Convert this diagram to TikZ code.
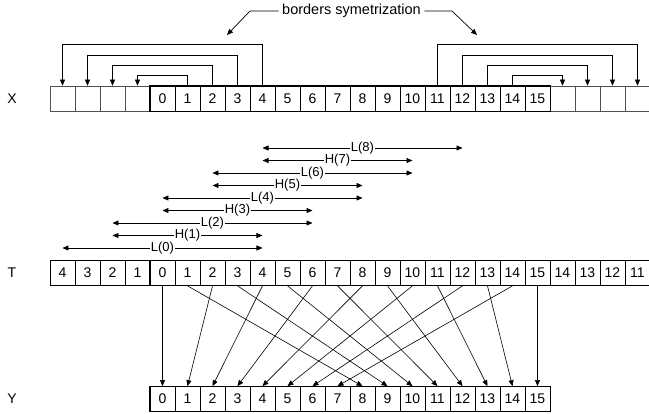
\documentclass[tikz,border=0pt]{standalone}
\usepackage{fontspec}
\setmainfont{Liberation Sans}
\usetikzlibrary{arrows.meta,calc,positioning}
\definecolor{edge}{HTML}{505050}
\tikzset{cell/.style={draw,minimum width=25pt,minimum height=25pt,inner sep=0pt,line width=.7pt,font=\fontsize{14}{16}\selectfont},pad/.style={cell,draw=edge},block/.style={draw,line width=.9pt},sym/.style={-{Triangle[length=6pt,width=5pt]},line width=.7pt},span/.style={{Triangle[length=6pt,width=5pt]}-{Triangle[length=6pt,width=5pt]},line width=.7pt},lab/.style={fill=white,inner sep=1pt,font=\fontsize{13}{15}\selectfont},map/.style={-{Triangle[length=6pt,width=5pt]},line width=.6pt},rowname/.style={font=\fontsize{14}{16}\selectfont}}
\begin{document}
\begin{tikzpicture}[x=25pt,y=25pt]
\useasboundingbox (-6,0) rectangle (19.96,-16.56);
% rows
\node[rowname] (lx) at (-5.52,-3.94) {X};\node[rowname] (lt) at (-5.52,-10.92) {T};\node[rowname] (ly) at (-5.52,-15.96) {Y};
\foreach \i in {-4,...,19}{\ifnum\i<0 \node[pad] (X\i) at (\i+.5,-3.94) {};\else\ifnum\i>15 \node[pad] (X\i) at (\i+.5,-3.94) {};\else\node[cell] (X\i) at (\i+.5,-3.94) {\i};\fi\fi}
\foreach \i in {-4,...,19}{\pgfmathtruncatemacro\v{\i<0?-\i:(\i>15?30-\i:\i)}\node[cell] (T\i) at (\i+.5,-10.92) {\v};}
\foreach \i in {0,...,15}{\node[cell] (Y\i) at (\i+.5,-15.96) {\i};}
\draw[block] (X0.north west) rectangle (X15.south east);\draw[block] (T0.north west) rectangle (T15.south east);\draw[block] (Y0.north west) rectangle (Y15.south east);
% borders symetrization
\foreach \k in {1,...,4}{\pgfmathtruncatemacro\a{15-\k}\pgfmathtruncatemacro\b{15+\k}\pgfmathsetmacro\h{.41*\k}
\draw[sym] (X\k.north) -- ++(0,\h) -| (X-\k.north);\draw[sym] (X\a.north) -- ++(0,\h) -| (X\b.north);}
\node[font=\fontsize{14.5}{16}\selectfont] (bs) at (8.06,-.44) {borders symetrization};
\coordinate (bl) at (4,-.44);\coordinate (blt) at (3.08,-1.4);\coordinate (br) at (12.08,-.44);\coordinate (brt) at (13.08,-1.4);
\draw[sym] (bs.west) -- (bl) -- (blt);\draw[sym] (bs.east) -- (br) -- (brt);
% filter supports
\foreach \n in {0,...,8}{\pgfmathtruncatemacro\w{4-mod(\n,2)}\pgfmathsetmacro\yy{-9.92+.5*\n}
\coordinate (ia\n) at (\n-\w+.5,\yy);\coordinate (ib\n) at (\n+\w+.5,\yy);
\draw[span] (ia\n) -- node[lab]{\ifodd\n\relax H\else L\fi(\n)} (ib\n);}
% lazy wavelet split
\foreach \i in {0,...,7}{\pgfmathtruncatemacro\a{2*\i}\pgfmathtruncatemacro\b{2*\i+1}\pgfmathtruncatemacro\c{\i+8}
\draw[map] (T\a.south) -- (Y\i.north);\draw[map] (T\b.south) -- (Y\c.north);}
\end{tikzpicture}
\end{document}
